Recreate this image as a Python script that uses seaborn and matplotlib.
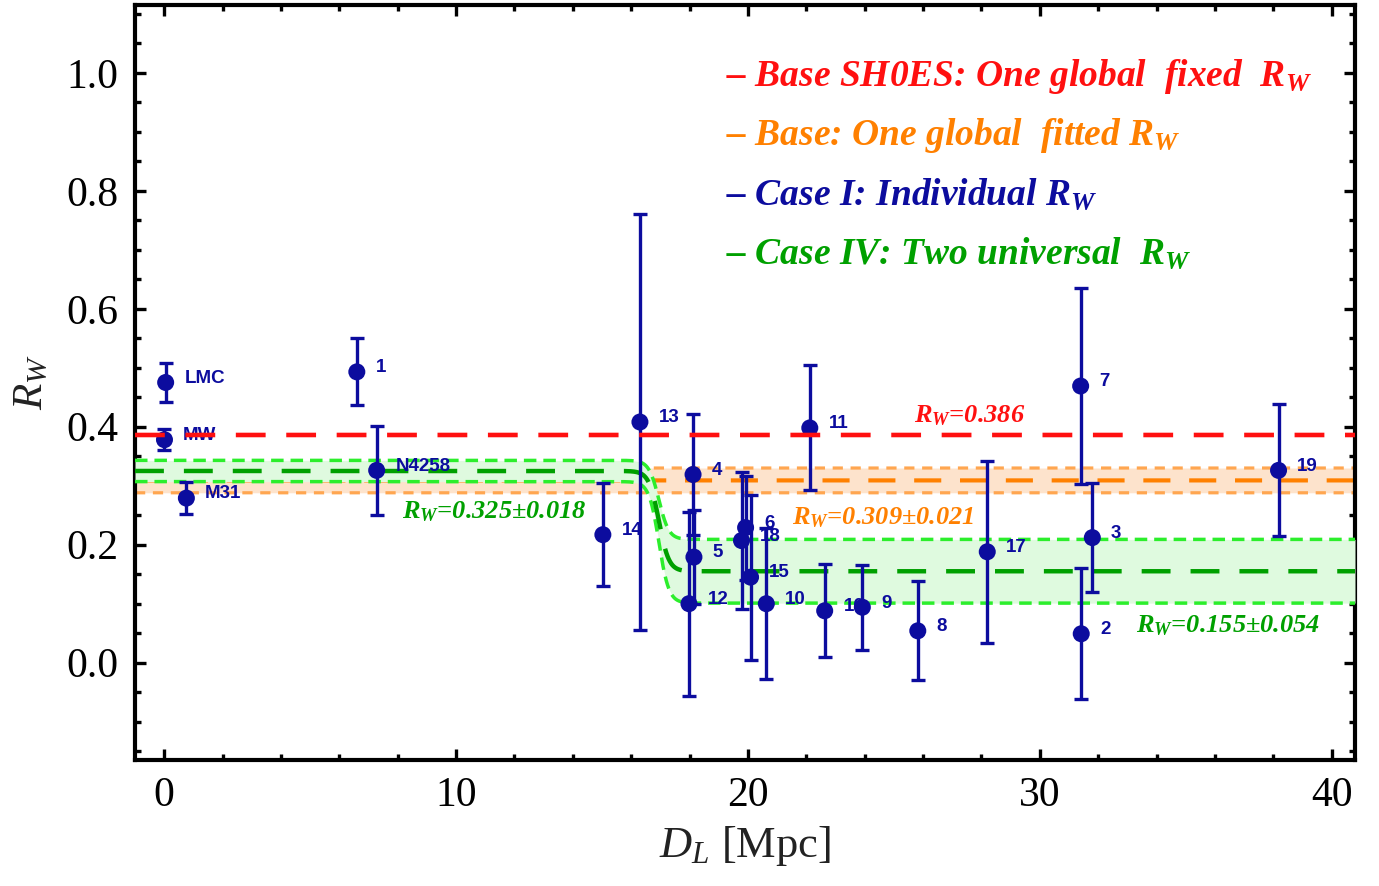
import numpy as np
import pandas as pd
import matplotlib
matplotlib.use("Agg")
import matplotlib.pyplot as plt
from matplotlib.ticker import MultipleLocator
import seaborn as sns

# Cepheid hosts: luminosity distance [Mpc], individually fitted R_W and 1-sigma error
host_names = ["LMC", "MW", "M31", "1", "N4258", "14", "13", "12", "4", "5", "18", "6",
              "15", "10", "11", "16", "9", "8", "17", "7", "2", "3", "19"]
distance_mpc = [0.05, 0.01, 0.76, 6.60, 7.28, 15.03, 16.30, 17.98, 18.12, 18.15, 19.78, 19.92,
                20.09, 20.63, 22.12, 22.63, 23.92, 25.82, 28.20, 31.40, 31.42, 31.80, 38.18]
rw_value = [0.475, 0.378, 0.279, 0.493, 0.326, 0.217, 0.408, 0.100, 0.319, 0.179, 0.207, 0.229,
            0.145, 0.100, 0.398, 0.088, 0.094, 0.054, 0.188, 0.469, 0.049, 0.212, 0.326]
rw_error = [0.033, 0.018, 0.027, 0.057, 0.076, 0.087, 0.353, 0.156, 0.103, 0.079, 0.116, 0.088,
            0.140, 0.128, 0.106, 0.079, 0.072, 0.084, 0.154, 0.166, 0.111, 0.092, 0.112]

# Global fits
rw_shoes_fixed = 0.386
rw_global_fit, rw_global_err = 0.309, 0.021
rw_near_fit, rw_near_err = 0.325, 0.018
rw_far_fit, rw_far_err = 0.155, 0.054
d_split, d_width = 16.95, 0.17   # smooth switch between the two universal R_W values

x_ticks = [0, 10, 20, 30, 40]
y_ticks = [0.0, 0.2, 0.4, 0.6, 0.8, 1.0]

legend_texts = [
    r"– Base SH0ES: One global  fixed  $\mathbf{R_W}$",
    r"– Base: One global  fitted $\mathbf{R_W}$",
    r"– Case I: Individual $\mathbf{R_W}$",
    r"– Case IV: Two universal  $\mathbf{R_W}$",
]

BLUE = "#0c0c9e"
RED = "#ff1010"
ORANGE = "#ff8000"
ORANGE_EDGE = "#ffa650"
ORANGE_FILL = "#fde3cc"
GREEN = "#00a000"
GREEN_EDGE = "#2cee2c"
GREEN_FILL = "#dffadf"
legend_colors = [RED, ORANGE, BLUE, GREEN]

sns.set_theme(style="ticks")
plt.rcParams["font.family"] = ["Liberation Serif", "DejaVu Serif"]
plt.rcParams["mathtext.fontset"] = "custom"
plt.rcParams["mathtext.rm"] = "Liberation Serif"
plt.rcParams["mathtext.it"] = "Liberation Serif:italic"
plt.rcParams["mathtext.bf"] = "Liberation Serif:bold:italic"

hosts = pd.DataFrame({"name": host_names, "D": distance_mpc, "RW": rw_value, "err": rw_error})

fig = plt.figure(figsize=(13.79, 8.86), dpi=100)
ax = fig.add_axes([0.0979, 0.1422, 0.8847, 0.8522])

xlim = (-1.0, 40.8)
xs = np.linspace(xlim[0], xlim[1], 3000)
switch = 1.0 / (1.0 + np.exp(-(xs - d_split) / d_width))
g_mid = rw_near_fit + (rw_far_fit - rw_near_fit) * switch
g_err = rw_near_err + (rw_far_err - rw_near_err) * switch

# Base fit band (orange)
ax.fill_between(xs, rw_global_fit - rw_global_err, rw_global_fit + rw_global_err,
                color=ORANGE_FILL, lw=0, zorder=1)
for v in (rw_global_fit - rw_global_err, rw_global_fit + rw_global_err):
    ax.plot(xs, np.full_like(xs, v), color=ORANGE_EDGE, lw=2.3, dashes=(3.2, 2.4), zorder=2)
ax.plot(xs, np.full_like(xs, rw_global_fit), color=ORANGE, lw=3.0, dashes=(6.5, 4.5), zorder=2)

# Case IV band (green), drawn over the orange one
ax.fill_between(xs, g_mid - g_err, g_mid + g_err, color=GREEN_FILL, lw=0, zorder=3)
ax.plot(xs, g_mid + g_err, color=GREEN_EDGE, lw=2.5, dashes=(3.6, 2.0), zorder=4)
ax.plot(xs, g_mid - g_err, color=GREEN_EDGE, lw=2.5, dashes=(3.6, 2.0), zorder=4)
ax.plot(xs, g_mid, color=GREEN, lw=3.2, dashes=(6.5, 4.5), zorder=4)

# Individual hosts
ax.errorbar(hosts["D"], hosts["RW"], yerr=hosts["err"], fmt="none", ecolor=BLUE,
            elinewidth=2.4, capsize=4.8, capthick=2.4, zorder=5)
sns.scatterplot(data=hosts, x="D", y="RW", ax=ax, color=BLUE, s=150, edgecolor="none",
                zorder=6, legend=False)
for _, r in hosts.iterrows():
    ax.annotate(r["name"], (r["D"], r["RW"]), xytext=(13.5, 3), textcoords="offset points",
                ha="left", va="center", fontsize=13.5, fontweight="bold", color=BLUE,
                family="Liberation Sans", zorder=7)

# SH0ES fixed value
ax.plot(xs, np.full_like(xs, rw_shoes_fixed), color=RED, lw=3.3, dashes=(6.5, 4.5), zorder=8)

# Value labels
lab_kw = dict(fontsize=19, fontweight="bold", fontstyle="italic", ha="left", va="baseline", zorder=9)
ax.text(25.7, 0.407, r"$\mathbf{R_W}$=" + f"{rw_shoes_fixed:.3f}", color=RED, **lab_kw)
ax.text(8.14, 0.244, r"$\mathbf{R_W}$=" + f"{rw_near_fit:.3f}±{rw_near_err:.3f}", color=GREEN, **lab_kw)
ax.text(21.5, 0.234, r"$\mathbf{R_W}$=" + f"{rw_global_fit:.3f}±{rw_global_err:.3f}", color=ORANGE, **lab_kw)
ax.text(33.3, 0.051, r"$\mathbf{R_W}$=" + f"{rw_far_fit:.3f}±{rw_far_err:.3f}", color=GREEN, **lab_kw)

# Legend lines
for i, (t, c) in enumerate(zip(legend_texts, legend_colors)):
    fig.text(726 / 1379, 1 - (86 + 59.3 * i) / 886, t, color=c, fontsize=27,
             fontweight="bold", fontstyle="italic", ha="left", va="baseline")

ax.set_xlim(*xlim)
ax.set_ylim(-0.165, 1.115)
ax.set_xticks(x_ticks)
ax.set_yticks(y_ticks)
ax.set_xticklabels([f"{t:d}" for t in x_ticks])
ax.set_yticklabels([f"{t:.1f}" for t in y_ticks])
ax.xaxis.set_minor_locator(MultipleLocator(2))
ax.yaxis.set_minor_locator(MultipleLocator(0.05))
ax.tick_params(which="both", direction="in", top=True, right=True, labelsize=30,
               width=2.4, color="black", labelcolor="black")
ax.tick_params(which="major", length=8, pad=12)
ax.tick_params(which="minor", length=4)
for s in ax.spines.values():
    s.set_linewidth(3.0)
    s.set_color("black")
ax.set_xlabel(r"$D_L$ [Mpc]", fontsize=32, labelpad=6, color="#222222")
ax.set_ylabel(r"$R_W$", fontsize=31, labelpad=11, color="#222222")
ax.grid(False)

fig.savefig("out.png", dpi=100, facecolor="white")
